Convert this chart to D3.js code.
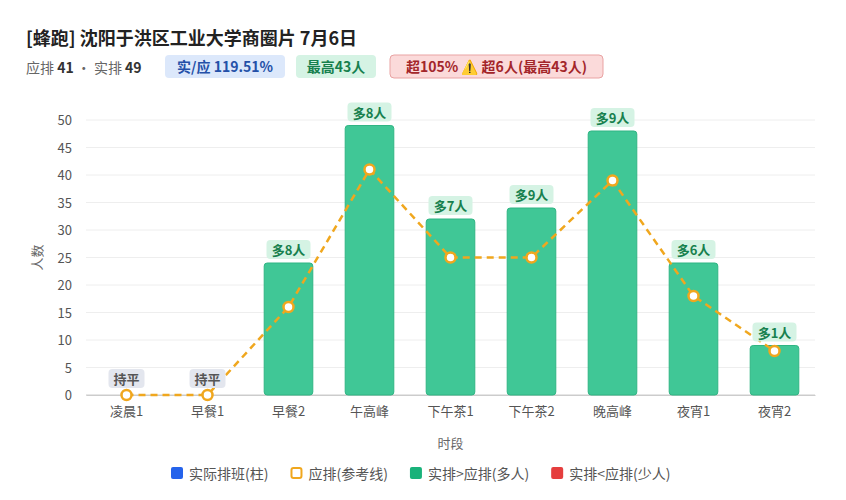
<!DOCTYPE html>
<html><head><meta charset="utf-8">
<script src="https://cdn.jsdelivr.net/npm/d3@7"></script>
<style>body{margin:0;background:#fff;font-family:"Noto Sans CJK SC","Noto Sans",sans-serif;}</style>
</head><body><svg id="c" width="846" height="500"></svg>
<script>
const categories=["凌晨1","早餐1","早餐2","午高峰","下午茶1","下午茶2","晚高峰","夜宵1","夜宵2"];
const actual=[0,0,24,49,32,34,48,24,9];
const planned=[0,0,16,41,25,25,39,18,8];
const yTicks=[0,5,10,15,20,25,30,35,40,45,50];
const svg=d3.select("#c");
const F='"Noto Sans CJK SC",sans-serif';
svg.append("text").attr("x",26).attr("y",45).attr("font-size",18).attr("font-weight",700).attr("fill","#222").attr("font-family",F).text("[蜂跑] 沈阳于洪区工业大学商圈片 7月6日");
const sub=svg.append("text").attr("x",26).attr("y",73).attr("font-size",14).attr("font-family",F).attr("fill","#666");
sub.append("tspan").text("应排 ");sub.append("tspan").attr("font-weight",700).attr("fill","#333").text("41");
sub.append("tspan").text(" · 实排 ");sub.append("tspan").attr("font-weight",700).attr("fill","#333").text("49");
function badge(x,w,bg,stroke,color,txt){svg.append("rect").attr("x",x).attr("y",55).attr("width",w).attr("height",23).attr("rx",4).attr("fill",bg).attr("stroke",stroke);
svg.append("text").attr("x",x+w/2).attr("y",72).attr("text-anchor","middle").attr("font-size",14).attr("font-weight",600).attr("fill",color).attr("font-family",F).text(txt);}
badge(165,120,"#dce8fb","none","#2450a8","实/应 119.51%");
badge(296,80,"#d5f3e4","none","#17804e","最高43人");
badge(390,213,"#fbdada","#e9a3a3","#a3262a","超105% ⚠️ 超6人(最高43人)");
const m={l:86,r:815,t:120,b:395};
const x=d3.scaleBand().domain(categories).range([m.l,m.r]).paddingInner(0.4).paddingOuter(0.2);
const y=d3.scaleLinear().domain([0,50]).range([m.b,m.t]);
const g=svg.append("g");
yTicks.forEach(t=>{g.append("line").attr("x1",m.l).attr("x2",m.r).attr("y1",y(t)).attr("y2",y(t)).attr("stroke",t==0?"#ccc":"#eee");
g.append("text").attr("x",m.l-14).attr("y",y(t)+5).attr("text-anchor","end").attr("font-size",13).attr("fill","#555").attr("font-family",F).text(t);});
svg.append("g").attr("transform",`translate(0,${m.b})`).call(d3.axisBottom(x).tickSize(0).tickPadding(12)).call(a=>{a.select(".domain").attr("stroke","#ccc");a.selectAll("text").attr("font-size",13).attr("fill","#555").attr("font-family",F);});
svg.append("text").attr("x",(m.l+m.r)/2).attr("y",448).attr("text-anchor","middle").attr("font-size",13).attr("fill","#666").attr("font-family",F).text("时段");
svg.append("text").attr("transform",`translate(42,${(m.t+m.b)/2}) rotate(-90)`).attr("text-anchor","middle").attr("font-size",13).attr("fill","#666").attr("font-family",F).text("人数");
categories.forEach((c,i)=>{
 if(actual[i]>0) svg.append("rect").attr("x",x(c)).attr("y",y(actual[i])).attr("width",x.bandwidth()).attr("height",y(0)-y(actual[i])).attr("rx",3).attr("fill","#40c796").attr("stroke","#2fb583");
});
const cx=c=>x(c)+x.bandwidth()/2;
svg.append("path").attr("d",d3.line().x((d,i)=>cx(categories[i])).y(d=>y(d))(planned)).attr("fill","none").attr("stroke","#f0a71e").attr("stroke-width",2.5).attr("stroke-dasharray","7,5");
planned.forEach((p,i)=>svg.append("circle").attr("cx",cx(categories[i])).attr("cy",y(p)).attr("r",5).attr("fill","#fff").attr("stroke","#f0a71e").attr("stroke-width",2.5));
categories.forEach((c,i)=>{
 const d=actual[i]-planned[i];const txt=d>0?`多${d}人`:"持平";
 const top=y(Math.max(actual[i],planned[i]));const yy=d>0?top-13:top-16;
 const w=d>0?44:36;
 svg.append("rect").attr("x",cx(c)-w/2).attr("y",yy-10).attr("width",w).attr("height",19).attr("rx",4).attr("fill",d>0?"#d5f3e4":"#e3e6ee");
 svg.append("text").attr("x",cx(c)).attr("y",yy+5).attr("text-anchor","middle").attr("font-size",13).attr("font-weight",700).attr("fill",d>0?"#17804e":"#555").attr("font-family",F).text(txt);
});
const leg=[["#2563eb","实际排班(柱)",true],["#f0a71e","应排(参考线)",false],["#19b27a","实排>应排(多人)",true],["#e53e3e","实排<应排(少人)",true]];
let lx=171;
leg.forEach(([col,t,fill])=>{
 svg.append("rect").attr("x",lx+(fill?0:1)).attr("y",467+(fill?0:1)).attr("width",fill?12:10).attr("height",fill?12:10).attr("rx",2).attr("fill",fill?col:"#fff").attr("stroke",col).attr("stroke-width",fill?0:2);
 const tx=svg.append("text").attr("x",lx+18).attr("y",479).attr("font-size",14).attr("fill","#555").attr("font-family",F).text(t);
 lx+=18+tx.node().getComputedTextLength()+22;
});
</script></body></html>
